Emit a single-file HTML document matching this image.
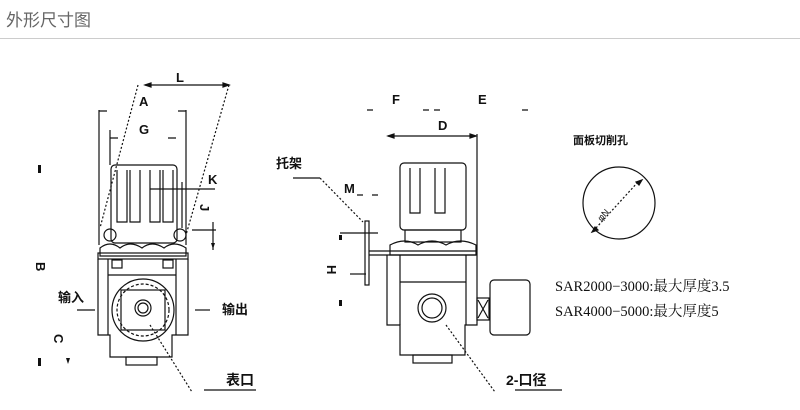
<!DOCTYPE html>
<html><head><meta charset="utf-8"><style>
html,body{margin:0;padding:0;background:#fff;}
svg{display:block}
text{font-family:"Liberation Sans","Noto Sans CJK SC",sans-serif;fill:#111}
.b{font-weight:bold}
</style></head><body>
<svg width="800" height="410" viewBox="0 0 800 410" xmlns="http://www.w3.org/2000/svg">
<text x="6" y="26" font-size="17" style="fill:#666">外形尺寸图</text>
<line x1="0" y1="38.5" x2="800" y2="38.5" stroke="#ccc" stroke-width="1"/>

<g stroke="#111" fill="none" stroke-width="1.2">
<line x1="145" y1="85" x2="229" y2="85"/>
<path d="M145 85l6-2v4z M229 85l-6-2v4z" fill="#111"/>
<line x1="138" y1="85" x2="100" y2="228" stroke-dasharray="2,2"/>
<line x1="229" y1="85" x2="186" y2="235" stroke-dasharray="2,2"/>
<line x1="99" y1="110" x2="99" y2="245"/>
<line x1="186" y1="110" x2="186" y2="245"/>
<path d="M99 111h8 M186 111h-8"/>
<line x1="110" y1="130" x2="110" y2="165"/>
<path d="M110 138h8 M176 138h-8"/>
<rect x="111" y="165" width="66" height="78" rx="4"/>
<path d="M117 170v52h10v-52 M130 170v52h10v-52 M150 170v52h10v-52 M163 170v52h10v-52"/>
<line x1="150" y1="189" x2="215" y2="189"/>
<line x1="182" y1="182" x2="182" y2="228"/>
<circle cx="110" cy="235" r="6"/><circle cx="180" cy="235" r="6"/>
<line x1="192" y1="230" x2="216" y2="230"/>
<line x1="213" y1="222" x2="213" y2="250"/>
<path d="M100 248q10-8 20 0q10-8 22 0q10-8 22 0q10-8 22 0v8h-86z"/>
<rect x="98" y="253" width="90" height="6"/>
<path d="M98 259v76h12v22h62v-22h16v-76"/>
<line x1="108" y1="259" x2="108" y2="335"/>
<line x1="176" y1="259" x2="176" y2="335"/>
<line x1="108" y1="275" x2="176" y2="275"/>
<rect x="112" y="260" width="10" height="8"/><rect x="163" y="260" width="10" height="8"/>
<circle cx="143" cy="310" r="31"/>
<circle cx="143" cy="310" r="26" stroke-dasharray="3,2"/>
<rect x="121" y="290" width="44" height="40"/>
<circle cx="143" cy="308" r="8"/><circle cx="143" cy="308" r="5"/>
<rect x="126" y="357" width="31" height="8"/>
<line x1="77" y1="310" x2="95" y2="310"/>
<line x1="195" y1="310" x2="210" y2="310"/>
<line x1="150" y1="325" x2="192" y2="392" stroke-dasharray="2,2"/>
<line x1="204" y1="390" x2="256" y2="390"/>

<path d="M367 110h6 M423 110h6 M434 110h6 M522 110h6"/>
<line x1="388" y1="136" x2="476" y2="136"/>
<path d="M388 136l6-2v4z M476 136l-6-2v4z" fill="#111"/>
<line x1="477" y1="134" x2="477" y2="255"/>
<rect x="400" y="163" width="66" height="67" rx="4"/>
<path d="M410 168v45h10v-45 M435 168v45h10v-45"/>
<rect x="405" y="230" width="56" height="12"/>
<path d="M390 255v-10q15-8 28 0q14-8 28 0q14-8 30 0v10z"/>
<rect x="365" y="221" width="4" height="64"/>
<line x1="369" y1="251" x2="476" y2="251"/>
<line x1="369" y1="255" x2="476" y2="255"/>
<path d="M387 255v70h13v30h65v-30h12v-70"/>
<line x1="400" y1="255" x2="400" y2="325"/>
<line x1="466" y1="255" x2="466" y2="325"/>
<line x1="400" y1="282" x2="466" y2="282"/>
<circle cx="432" cy="308" r="14"/><circle cx="432" cy="308" r="10"/>
<rect x="413" y="355" width="39" height="8"/>
<rect x="477" y="298" width="12" height="22"/>
<path d="M478 300l10 18 M488 300l-10 18"/>
<rect x="490" y="280" width="40" height="55" rx="4"/>
<line x1="340" y1="233" x2="378" y2="233"/>
<line x1="350" y1="274" x2="366" y2="274"/>
<line x1="320" y1="178" x2="363" y2="222" stroke-dasharray="2,2"/>
<line x1="293" y1="178" x2="320" y2="178"/>
<path d="M357 195h6 M372 195h6"/>
<line x1="446" y1="325" x2="495" y2="392" stroke-dasharray="2,2"/>
<line x1="515" y1="390" x2="562" y2="390"/>

<circle cx="619" cy="203" r="36"/>
<line x1="596" y1="228" x2="638" y2="182" stroke-dasharray="2,2"/>
<path d="M642 180l-6 2l3 3z M592 232l6-2l-3-3z" fill="#111"/>
</g>

<g fill="#111">
<path d="M38 165h3v8h-3z M38 358h3v8h-3z M66 358h4l-2 6z M339 235h3v5h-3z M339 300h3v6h-3z M211 243h4l-2 6z"/>
</g>

<g class="b">
<text x="176" y="82" font-size="13">L</text>
<text x="139" y="106" font-size="13">A</text>
<text x="139" y="134" font-size="13">G</text>
<text x="208" y="184" font-size="13">K</text>
<text x="200" y="212" font-size="13" transform="rotate(90 204 208)">J</text>
<text x="36" y="270" font-size="13" transform="rotate(90 40 266)">B</text>
<text x="54" y="342" font-size="13" transform="rotate(90 58 338)">C</text>
<text x="58" y="302" font-size="13">输入</text>
<text x="222" y="314" font-size="13">输出</text>
<text x="226" y="385" font-size="14">表口</text>
<text x="392" y="104" font-size="13">F</text>
<text x="478" y="104" font-size="13">E</text>
<text x="438" y="130" font-size="13">D</text>
<text x="276" y="168" font-size="13">托架</text>
<text x="344" y="193" font-size="13">M</text>
<text x="326" y="274" font-size="13" transform="rotate(90 331 270)">H</text>
<text x="506" y="385" font-size="14">2-口径</text>
<text x="573" y="144" font-size="11">面板切削孔</text>
</g>
<text x="597" y="220" font-size="9" transform="rotate(-48 601 216)">φN</text>
<text x="555" y="291" font-size="14.5" style="font-family:'Liberation Serif','Noto Serif CJK SC',serif">SAR2000−3000:最大厚度3.5</text>
<text x="555" y="316" font-size="14.5" style="font-family:'Liberation Serif','Noto Serif CJK SC',serif">SAR4000−5000:最大厚度5</text>
</svg>
</body></html>
